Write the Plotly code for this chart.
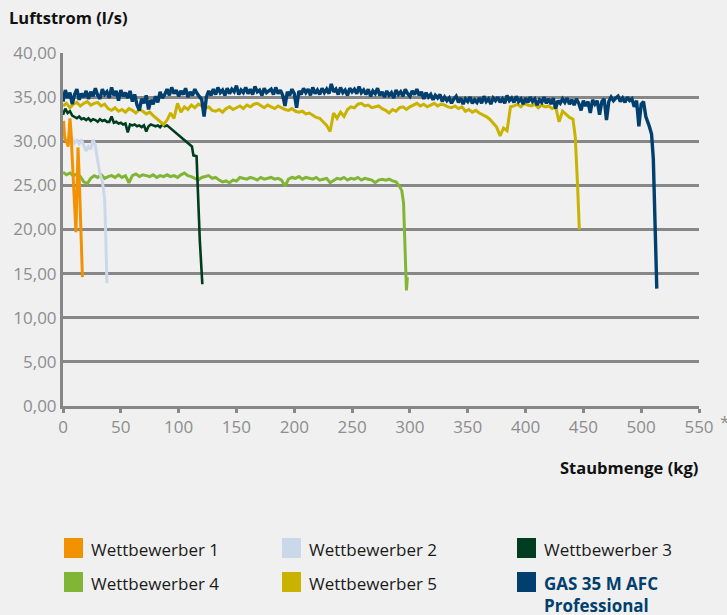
import plotly.graph_objects as go

# ---------------- data ----------------
series_names = ["Wettbewerber 1", "Wettbewerber 2", "Wettbewerber 3",
                "Wettbewerber 4", "Wettbewerber 5", "GAS 35 M AFC<br>Professional"]
series_colors = ["#f39200", "#cad8ea", "#003c1f", "#80b536", "#c9b200", "#003f6e"]

w1_kg = [0.5, 1.5, 3, 4.5, 6, 7, 8, 9.5, 11.2, 12, 13, 14, 15, 16, 16.8]
w1_ls = [32.3, 30.3, 30.0, 29.4, 32.6, 31.0, 28.0, 24.0, 19.7, 24.0, 29.3, 26.0, 21.5, 17.5, 14.6]

w2_kg = [0, 1, 2.5, 4, 6, 8, 10, 12, 14, 16, 18, 20, 22, 24, 26, 28, 30, 32, 34, 36, 37, 38]
w2_ls = [31.8, 30.6, 30.2, 30.5, 29.9, 30.3, 29.8, 30.1, 29.7, 30.2, 29.5, 28.9, 29.4, 29.1,
         30.2, 29.5, 27.8, 26.3, 25.5, 23.5, 19.0, 13.9]

w3_kg = [0, 2, 4, 6, 8, 10, 12, 14, 16, 18,
         20, 22, 24, 26, 28, 30, 32, 34, 36, 38,
         40, 42, 44, 46, 48, 50, 52, 54, 56, 58,
         60, 62, 64, 66, 68, 70, 72, 74, 76, 78,
         80, 82, 84, 86, 88, 90,
         100, 111.5, 112.8, 115.5, 118.3, 120.5]
w3_ls = [33.0, 33.7, 33.2, 33.4, 32.9, 32.7, 32.6, 32.8, 32.5, 32.6,
         32.4, 32.6, 32.3, 32.5, 32.4, 32.2, 32.5, 32.3, 32.4, 32.2,
         32.2, 32.8, 32.1, 32.2, 32.0, 32.1, 31.9, 32.0, 31.0, 31.9,
         31.8, 31.9, 31.7, 31.8, 31.6, 31.8, 31.1, 31.7, 31.9, 31.8,
         31.7, 31.8, 31.6, 31.9, 31.7, 31.8,
         30.7, 29.4, 28.4, 28.3, 18.8, 13.8]

w4_kg = [0, 3, 6, 9, 12, 15, 18, 21, 24, 27,
         30, 33, 36, 39, 42, 45, 48, 51, 54, 57,
         60, 63, 66, 69, 72, 75, 78, 81, 84, 87,
         90, 93, 96, 99, 102, 105, 108, 111, 114, 117,
         120, 123, 126, 129, 132, 135, 138, 141, 144, 147,
         150, 153, 156, 159, 162, 165, 168, 171, 174, 177,
         180, 183, 186, 189, 192, 195, 198, 201, 204, 207,
         210, 213, 216, 219, 222, 225, 228, 231, 234, 237,
         240, 243, 246, 249, 252, 255, 258, 261, 264, 267,
         270, 273, 276, 279, 282, 285, 288, 291,
         293, 294.5, 295.5, 296.3, 297, 297.8]
w4_ls = [26.5, 26.2, 26.4, 26.1, 26.3, 26.0, 25.4, 25.2, 25.8, 26.1,
         25.9, 26.2, 25.8, 26.0, 26.1, 25.9, 26.2, 25.9, 26.1, 25.3,
         26.1, 26.3, 26.0, 26.2, 26.1, 26.0, 26.2, 25.9, 26.1, 26.0,
         26.2, 26.0, 26.1, 25.9, 26.2, 26.4, 26.1, 26.0, 25.8, 25.6,
         25.9, 26.0, 26.1, 25.8, 25.9, 25.6, 25.4, 25.5, 25.3, 25.6,
         25.5, 25.9, 25.8, 25.7, 25.9, 25.8, 25.6, 25.9, 25.7, 25.8,
         25.9, 25.7, 25.8, 25.6, 24.9, 25.7, 25.9, 25.8, 26.0, 25.7,
         25.9, 25.8, 25.7, 25.9, 25.6, 25.7, 25.8, 25.3, 25.6, 25.8,
         25.7, 25.9, 25.6, 25.8, 25.7, 25.9, 25.6, 25.8, 25.7, 25.6,
         25.3, 25.6, 25.7, 25.6, 25.7, 25.5, 25.4, 24.9,
         24.4, 23.0, 19.0, 14.5, 13.1, 14.6]

w5_ls_main = [34.0, 34.3, 33.8, 34.2, 34.4, 34.0, 34.3, 34.5, 34.1, 34.3,
              34.4, 34.0, 34.2, 33.7, 33.5, 33.8, 33.4, 33.6, 33.3, 33.7,
              33.5, 33.2, 33.6, 33.4, 33.1, 33.3, 32.9, 32.6, 32.3, 31.9,
              32.4, 33.2, 32.6, 34.3, 33.3, 33.9, 33.6, 34.1, 33.8, 34.2,
              34.0, 33.7, 33.9, 33.5, 33.4, 33.6, 33.3, 33.7, 33.9, 33.6,
              33.8, 34.0, 33.7, 34.1, 33.9, 34.2, 34.3, 34.0, 33.8, 34.1,
              33.9, 33.7, 34.0, 33.8, 33.6, 33.5, 33.7, 33.4, 33.3, 33.4,
              33.1, 33.2, 32.9, 32.7, 32.6, 32.2, 31.8, 31.1, 33.2, 32.6,
              33.3, 32.8, 33.6, 33.9, 33.8, 34.2, 34.3, 34.0, 34.1, 33.8,
              33.9, 34.0, 33.7, 33.5, 33.2, 33.6, 33.4, 33.8, 33.9, 33.6,
              33.9, 34.1, 34.3, 34.0, 34.2, 33.9, 34.1, 34.3, 34.0, 34.2,
              34.1, 33.9, 33.8, 34.0, 33.7, 33.9, 33.4, 33.6, 33.3, 33.5,
              33.2, 33.0, 32.8, 32.5, 32.1, 31.6, 30.6, 31.5, 31.2, 33.9,
              34.0, 34.2, 33.9, 34.3, 34.1, 34.0, 34.2, 33.8, 34.1, 33.9,
              34.0, 33.7, 33.9, 32.2, 33.4, 33.0, 32.7, 32.5]
w5_step_kg = 3
w5_tail_kg = [443, 445, 446.5]
w5_tail_ls = [30.5, 25.0, 20.0]

gas_ls_main = [34.5, 35.8, 34.9, 35.5, 34.2, 35.3, 35.9, 34.7, 35.4, 35.0,
               35.7, 34.8, 35.6, 35.1, 36.0, 35.2, 34.8, 35.9, 35.3, 35.6,
               34.9, 36.1, 35.2, 35.7, 34.6, 35.8, 35.1, 35.5, 34.9, 35.7,
               34.5, 35.3, 34.1, 33.5, 34.8, 34.3, 35.2, 33.6, 34.7, 34.2,
               35.1, 34.4, 35.6, 34.9, 35.3, 35.9, 35.2, 36.1, 35.4, 35.8,
               35.1, 35.7, 35.3, 36.0, 35.0, 35.6, 35.2, 35.9, 35.4, 35.0,
               34.7, 32.8, 35.0, 35.7, 35.2, 35.9, 35.3, 36.1, 35.5, 35.8,
               35.2, 36.0, 35.4, 35.9, 35.6, 36.3, 35.3, 35.8, 35.5, 36.1,
               35.4, 35.9, 35.3, 36.2, 35.6, 35.8, 35.2, 36.0, 35.5, 35.7,
               35.9, 35.3, 36.1, 35.4, 35.8, 35.2, 34.0, 35.6, 35.2, 35.9,
               35.4, 33.8, 35.7, 35.3, 36.0, 35.5, 35.9, 35.2, 36.1, 35.4,
               35.8, 35.3, 36.0, 35.5, 35.9, 35.4, 36.5, 35.6, 35.9, 35.3,
               36.1, 35.5, 35.8, 35.2, 36.0, 35.6, 35.9, 35.4, 36.2, 35.5,
               35.8, 35.3, 35.9, 35.1, 35.7, 35.4, 36.0, 35.2, 35.6, 35.0,
               35.7, 35.2, 35.5, 34.9, 35.8, 35.3, 35.6, 35.1, 35.9, 35.4,
               35.1, 35.7, 35.3, 35.9, 35.2, 35.6, 34.8, 35.5, 35.0, 35.3,
               34.7, 35.2, 34.9, 35.3, 34.5, 35.0, 34.6, 34.9, 34.3, 34.8,
               35.1, 34.4, 34.9, 34.2, 34.8, 34.5, 35.0, 34.3, 34.7, 34.4,
               34.9, 34.3, 35.1, 34.5, 34.8, 34.2, 34.9, 34.6, 35.0, 34.4,
               34.8, 34.3, 35.2, 34.6, 34.9, 34.4, 35.1, 34.5, 34.8, 34.2,
               34.9, 34.4, 35.0, 34.5, 34.8, 34.1, 34.7, 34.4, 35.0, 34.3,
               34.8, 34.2, 34.9, 33.7, 34.6, 34.3, 34.8, 34.4, 34.9, 34.2,
               34.7, 34.1, 34.8, 34.3, 33.5, 34.6, 34.0, 34.5, 33.2, 34.7,
               34.2, 34.6, 33.0, 34.5, 34.8, 32.4, 34.5, 35.0, 34.6, 34.9,
               35.1, 34.5, 34.9, 34.4, 35.0, 34.6, 34.8, 33.9, 34.6, 31.7,
               34.2, 34.5, 32.8]
gas_step_kg = 2
gas_tail_kg = [507, 509, 510.5, 512, 513.5]
gas_tail_ls = [31.7, 30.8, 28.0, 21.0, 13.3]

x_ticks = [0, 50, 100, 150, 200, 250, 300, 350, 400, 450, 500, 550]
y_ticks = [0, 5, 10, 15, 20, 25, 30, 35, 40]

w5_kg = [i * w5_step_kg for i in range(len(w5_ls_main))] + w5_tail_kg
w5_ls = w5_ls_main + w5_tail_ls
gas_kg = [i * gas_step_kg for i in range(len(gas_ls_main))] + gas_tail_kg
gas_ls = gas_ls_main + gas_tail_ls

series = [(w1_kg, w1_ls, 3), (w2_kg, w2_ls, 3), (w3_kg, w3_ls, 2.6),
          (w4_kg, w4_ls, 3), (w5_kg, w5_ls, 3), (gas_kg, gas_ls, 3.4)]

# ---------------- figure ----------------
W, H = 727, 615
L, R, T, B = 63, 28, 53, 209
GRID = "#878787"
FAM = "Open Sans, Roboto, Arial, sans-serif"
TICKFONT = dict(family=FAM, size=17, color="#8d8d8d")
BG = "#f0f0f0"

fig = go.Figure()
order = [3, 2, 4, 1, 0, 5]
for i in order:
    xs, ys, lw = series[i]
    fig.add_trace(go.Scatter(x=xs, y=ys, mode="lines", name=series_names[i],
                             line=dict(color=series_colors[i], width=lw),
                             showlegend=False, hoverinfo="skip"))

fig.update_layout(
    width=W, height=H,
    margin=dict(l=L, r=R, t=T, b=B),
    paper_bgcolor=BG, plot_bgcolor=BG,
    separators=",.",
    xaxis=dict(range=[0, 550], tickvals=x_ticks, ticktext=[str(v) for v in x_ticks],
               showgrid=False, zeroline=False, showline=True, linecolor=GRID, linewidth=3,
               ticks="outside", ticklen=4, tickwidth=2.5, tickcolor=GRID,
               tickfont=TICKFONT, fixedrange=True),
    xaxis2=dict(range=[0, 550], overlaying="x", anchor="y", side="bottom",
                tickvals=x_ticks, showticklabels=False, showgrid=False, zeroline=False,
                ticks="inside", ticklen=5, tickwidth=2.5, tickcolor=GRID),
    yaxis=dict(range=[0, 40], tickvals=y_ticks, tickformat=".2f",
               showgrid=True, gridcolor=GRID, gridwidth=2.5, zeroline=False,
               showline=True, linecolor=GRID, linewidth=3, ticks="",
               tickfont=TICKFONT, fixedrange=True),
    showlegend=False,
)

PW, PH = W - L - R, H - T - B


def px(xp):
    return (xp - L) / PW


def py(yp):
    return (H - B - yp) / PH


TITLEFONT = dict(family=FAM, size=16.5, color="#111111")
annotations = [
    dict(text="<b>Luftstrom (l/s)</b>", x=px(7), y=py(18), xanchor="left", yanchor="middle",
         font=TITLEFONT),
    dict(text="<b>Staubmenge (kg)</b>", x=px(700), y=py(467), xanchor="right", yanchor="middle",
         font=TITLEFONT),
    dict(text="*", x=px(718), y=py(421), xanchor="left", yanchor="middle",
         font=TICKFONT),
]

# legend grid: 3 columns x 2 rows
col_x = [64, 282, 517]
row_y = [548, 582]
shapes = []
for k, name in enumerate(series_names):
    c, r = k % 3, k // 3
    x0, yc = col_x[c], row_y[r]
    shapes.append(dict(type="rect", xref="paper", yref="paper",
                       x0=px(x0), x1=px(x0 + 19), y0=py(yc - 10), y1=py(yc + 10),
                       fillcolor=series_colors[k], line=dict(width=0)))
    is_main = k == len(series_names) - 1
    annotations.append(dict(
        text=("<b>%s</b>" % name) if is_main else name,
        x=px(x0 + 25), y=py(yc - 12), xanchor="left", yanchor="top", align="left",
        font=dict(family=FAM, size=17,
                  color=series_colors[k] if is_main else "#1a1a1a")))

for a in annotations:
    a.setdefault("xref", "paper")
    a.setdefault("yref", "paper")
    a.setdefault("showarrow", False)

fig.update_layout(annotations=annotations, shapes=shapes)
fig.write_html("out.html", config={"displayModeBar": False},
               post_script="document.body.style.margin='0';document.body.style.padding='0';")
